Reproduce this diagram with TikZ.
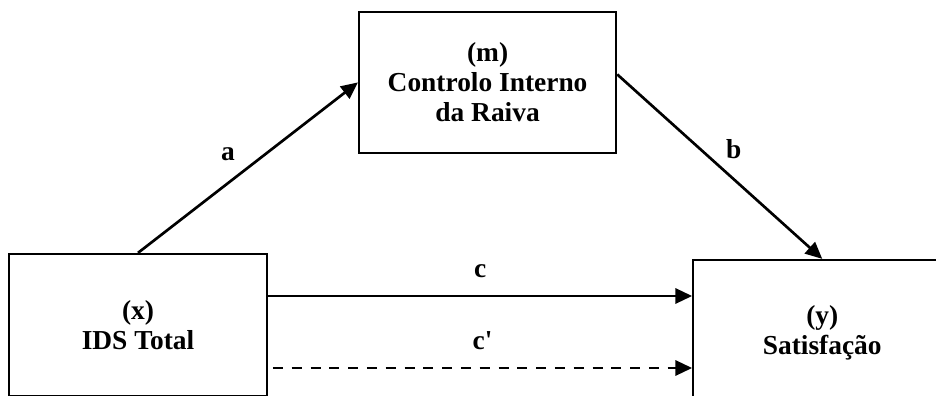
\documentclass[tikz,border=0pt]{standalone}
\usepackage{fontspec}
\setmainfont{Liberation Serif}[Ligatures=TeXOff]
\usetikzlibrary{positioning,arrows.meta}

\begin{document}
\begin{tikzpicture}[
			var/.style={draw, line width=1.6pt, minimum width=6.45cm, align=center, font=\fontsize{19.5}{21.3}\selectfont\bfseries},
			arrow/.style={-{Triangle[length=0.42cm, width=0.38cm]}, line width=1.9pt},
			lbl/.style={font=\fontsize{19.5}{21.3}\selectfont\bfseries}
		]
		\useasboundingbox (0,0) rectangle (23.4,9.9);

		% Variables
		\node[var, minimum height=3.55cm] (x) at (3.45,1.775) {(x)\\IDS Total};
		\node[var, minimum width=6.425cm, minimum height=3.525cm] (m) at (12.19,7.84) {(m)\\Controlo Interno\\da Raiva};
		\node[var, minimum height=3.65cm, right=10.6cm of x, yshift=-0.2cm] (y) {(y)\\Satisfação};

		% Paths
		\draw[arrow] (x.north) -- (m.west) node[lbl, midway, xshift=-0.5cm, yshift=0.33cm] {a};
		\draw[arrow] ([yshift=0.2cm]m.east) -- (y.north) node[lbl, midway, xshift=0.35cm, yshift=0.45cm] {b};
		\draw[arrow] ([yshift=0.725cm]x.east) -- ([yshift=0.725cm]x.east -| y.west) node[lbl, midway, above=0.3cm] {c};
		\draw[arrow, dash pattern=on 0.25cm off 0.22cm] ([xshift=0.12cm, yshift=-1.075cm]x.east) -- ([yshift=-1.075cm]x.east -| y.west) node[lbl, midway, above=0.3cm] {c'};
	\end{tikzpicture}
\end{document}
